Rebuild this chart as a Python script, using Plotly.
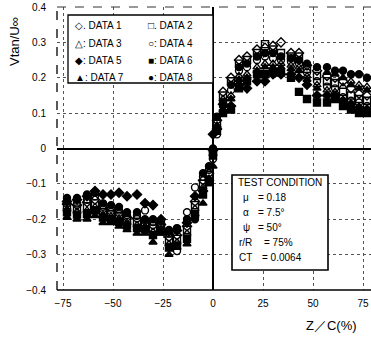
import plotly.graph_objects as go

# Z/C (%) stations
z_c = [-73, -68, -63, -59, -55, -51, -47, -43, -38, -34, -30, -26, -22, -18, -13, -9, -5, -2, 0,
       2, 5, 9, 13, 17, 22, 26, 30, 34, 39, 43, 47, 52, 57, 61, 65, 69, 73, 77]

data_1 = [-0.157, -0.16, -0.152, -0.145, -0.172, -0.178, -0.183, -0.195, -0.198, -0.205, -0.217, -0.215,
          -0.25, -0.245, -0.22, -0.15, -0.09, -0.07, -0.005, 0.08, 0.16, 0.2, 0.25, 0.26, 0.28, 0.285,
          0.29, 0.30, 0.27, 0.27, 0.235, 0.22, 0.205, 0.2, 0.19, 0.17, 0.155, 0.15]
data_2 = [-0.165, -0.17, -0.163, -0.155, -0.18, -0.185, -0.19, -0.202, -0.207, -0.212, -0.226, -0.222,
          -0.26, -0.255, -0.23, -0.16, -0.1, -0.075, -0.01, 0.07, 0.15, 0.19, 0.24, 0.25, 0.27, 0.295,
          0.28, 0.27, 0.26, 0.26, 0.225, 0.205, 0.19, 0.185, 0.16, 0.15, 0.14, 0.135]
data_3 = [-0.172, -0.178, -0.175, -0.165, -0.188, -0.192, -0.198, -0.21, -0.216, -0.22, -0.235, -0.228,
          -0.27, -0.265, -0.24, -0.17, -0.11, -0.085, -0.015, 0.06, 0.14, 0.15, 0.205, 0.21, 0.23, 0.24,
          0.24, 0.24, 0.235, 0.23, 0.205, 0.18, 0.165, 0.16, 0.175, 0.19, 0.18, 0.175]
data_4 = [-0.15, -0.155, -0.145, -0.135, -0.165, -0.17, -0.175, -0.188, -0.19, -0.175, -0.208, -0.21,
          -0.24, -0.29, -0.18, -0.11, -0.08, -0.06, -0.03, 0.04, 0.13, 0.165, 0.22, 0.23, 0.25, 0.26,
          0.255, 0.25, 0.245, 0.24, 0.215, 0.19, 0.175, 0.17, 0.145, 0.135, 0.13, 0.12]
data_5 = [-0.15, -0.145, -0.135, -0.12, -0.13, -0.13, -0.125, -0.135, -0.13, -0.155, -0.16, -0.2,
          -0.235, -0.232, -0.21, -0.135, -0.12, -0.09, 0.04, 0.055, 0.125, 0.12, 0.18, 0.17, 0.19, 0.19,
          0.21, 0.21, 0.21, 0.2, 0.18, 0.15, 0.15, 0.15, 0.135, 0.125, 0.115, 0.11]
data_6 = [-0.18, -0.187, -0.185, -0.175, -0.195, -0.2, -0.207, -0.218, -0.225, -0.228, -0.245, -0.234,
          -0.28, -0.275, -0.255, -0.185, -0.13, -0.095, -0.02, 0.05, 0.10, 0.11, 0.17, 0.19, 0.21, 0.21,
          0.215, 0.215, 0.20, 0.16, 0.14, 0.13, 0.13, 0.14, 0.12, 0.11, 0.10, 0.10]
data_7 = [-0.195, -0.2, -0.2, -0.19, -0.21, -0.21, -0.22, -0.23, -0.24, -0.24, -0.265, -0.24,
          -0.30, -0.28, -0.27, -0.185, -0.155, -0.1, -0.05, 0.065, 0.11, 0.14, 0.195, 0.2, 0.22, 0.23,
          0.23, 0.23, 0.225, 0.22, 0.195, 0.17, 0.215, 0.21, 0.2, 0.18, 0.17, 0.165]
data_8 = [-0.14, -0.14, -0.13, -0.125, -0.155, -0.16, -0.165, -0.18, -0.18, -0.2, -0.2, -0.205,
          -0.23, -0.225, -0.2, -0.2, -0.07, -0.05, 0.0, 0.09, 0.12, 0.18, 0.23, 0.24, 0.26, 0.27,
          0.27, 0.26, 0.255, 0.25, 0.24, 0.23, 0.23, 0.22, 0.22, 0.21, 0.21, 0.20]

series_names = ["DATA 1", "DATA 2", "DATA 3", "DATA 4", "DATA 5", "DATA 6", "DATA 7", "DATA 8"]
legend_labels = ["\u25c7. DATA 1", "\u25a1. DATA 2", "\u25b3: DATA 3", "\u25cb: DATA 4",
                 "\u25c6: DATA 5", "\u25a0: DATA 6", "\u25b2: DATA 7", "\u25cf: DATA 8"]
x_ticks = [-75, -50, -25, 0, 25, 50, 75]
x_ticktext = ["\u221275", "\u221250", "\u221225", "0", "25", "50", "75"]
y_ticks = [-0.4, -0.3, -0.2, -0.1, 0, 0.1, 0.2, 0.3, 0.4]
y_ticktext = ["\u22120.4", "\u22120.3", "\u22120.2", "\u22120.1", "0", "0.1", "0.2", "0.3", "0.4"]
cond_labels = ["\u03bc", "\u03b1", "\u03c8", "r/R", "CT"]
cond_values = ["= 0.18", "= 7.5\u00b0", "= 50\u00b0", "= 75%", "= 0.0064"]

all_data = [data_1, data_2, data_3, data_4, data_5, data_6, data_7, data_8]
symbols = ["diamond-open", "square-open", "triangle-up-open", "circle-open",
            "diamond", "square", "triangle-up", "circle"]

FONT = "Liberation Sans, Arial, sans-serif"
W, H = 371, 338

fig = go.Figure()
for name, vals, sym in zip(series_names, all_data, symbols):
    fig.add_trace(go.Scatter(
        x=z_c, y=vals, mode="markers", name=name, showlegend=False,
        marker=dict(symbol=sym, size=7, color="black", line=dict(color="black", width=1.4)),
    ))

# plot area on screen: x 57..371, y 7..290
PL, PR, PT, PB = 57, 371, 7, 290
XR = [-78, 79]

def dx(px):
    return XR[0] + (px - PL) * (XR[1] - XR[0]) / (PR - PL)

def dy(py):
    return 0.4 - (py - PT) * 0.8 / (PB - PT)

def paper_x(px):
    return (px - PL) / (PR - PL)

def paper_y(py):
    return (PB - py) / (PB - PT)

shapes = [
    dict(type="line", xref="paper", yref="paper", x0=0, x1=0, y0=0, y1=1,
         line=dict(color="black", width=1.3, dash="dash")),
    dict(type="line", xref="paper", yref="paper", x0=0, x1=1, y0=0, y1=0,
         line=dict(color="black", width=1.6)),
    dict(type="line", xref="paper", yref="paper", x0=0, x1=1, y0=1, y1=1,
         line=dict(color="#333", width=1, dash="dash")),
    dict(type="rect", xref="x", yref="y", x0=dx(68), x1=dx(213), y0=dy(83), y1=dy(15),
         line=dict(color="black", width=1.3), fillcolor="white", layer="above"),
    dict(type="rect", xref="x", yref="y", x0=dx(232), x1=dx(328), y0=dy(270), y1=dy(175),
         line=dict(color="black", width=1.6), fillcolor="white", layer="above"),
]

annotations = []
rows_y = [25, 43, 60, 77]
for i, lab in enumerate(legend_labels):
    col = i % 2
    row = i // 2
    annotations.append(dict(
        x=dx(73 if col == 0 else 146), y=dy(rows_y[row]), xref="x", yref="y",
        text=lab, showarrow=False, xanchor="left", yanchor="middle",
        font=dict(family=FONT, size=10, color="black")))

annotations.append(dict(x=dx(236), y=dy(182), xref="x", yref="y", text="TEST CONDITION",
                        showarrow=False, xanchor="left", yanchor="middle",
                        font=dict(family=FONT, size=10, color="black")))
lab_x = [241, 241, 241, 237, 237]
val_x = [256, 256, 256, 262, 260]
for i, (lab, val) in enumerate(zip(cond_labels, cond_values)):
    yy = dy(197 + 15 * i)
    annotations.append(dict(x=dx(lab_x[i]), y=yy, xref="x", yref="y", text=lab, showarrow=False,
                            xanchor="left", yanchor="middle",
                            font=dict(family=FONT, size=10, color="black")))
    annotations.append(dict(x=dx(val_x[i]), y=yy, xref="x", yref="y", text=val, showarrow=False,
                            xanchor="left", yanchor="middle",
                            font=dict(family=FONT, size=10, color="black")))

annotations.append(dict(x=paper_x(14), y=paper_y(42), xref="paper", yref="paper",
                        text="Vtan/U\u221e", textangle=-90, showarrow=False,
                        xanchor="center", yanchor="middle",
                        font=dict(family=FONT, size=13, color="black")))
annotations.append(dict(x=paper_x(331), y=paper_y(325), xref="paper", yref="paper",
                        text="Z\uff0fC(%)", showarrow=False, xanchor="center", yanchor="middle",
                        font=dict(family=FONT, size=13, color="black")))

fig.update_layout(
    width=W, height=H,
    margin=dict(l=PL, r=W - PR, t=PT, b=H - PB),
    paper_bgcolor="white", plot_bgcolor="white",
    shapes=shapes, annotations=annotations,
    font=dict(family=FONT, size=10, color="black"),
    xaxis=dict(range=XR, tickvals=x_ticks, ticktext=x_ticktext, showgrid=True,
               gridcolor="#555", griddash="dot", gridwidth=1, zeroline=True,
               zerolinecolor="black", zerolinewidth=1.6, showline=False, ticks="",
               automargin=False,
               ticklabelstandoff=6, tickfont=dict(family=FONT, size=10, color="black")),
    yaxis=dict(range=[-0.4, 0.4], tickvals=y_ticks, ticktext=y_ticktext, showgrid=True,
               gridcolor="#555", griddash="dot", gridwidth=1, zeroline=True,
               zerolinecolor="black", zerolinewidth=1.6, showline=False, ticks="",
               automargin=False,
               ticklabelstandoff=10, tickfont=dict(family=FONT, size=10, color="black")),
)

fig.write_html("out.html", config={"displayModeBar": False},
               post_script="document.body.style.margin='0';document.body.style.overflow='hidden';")
